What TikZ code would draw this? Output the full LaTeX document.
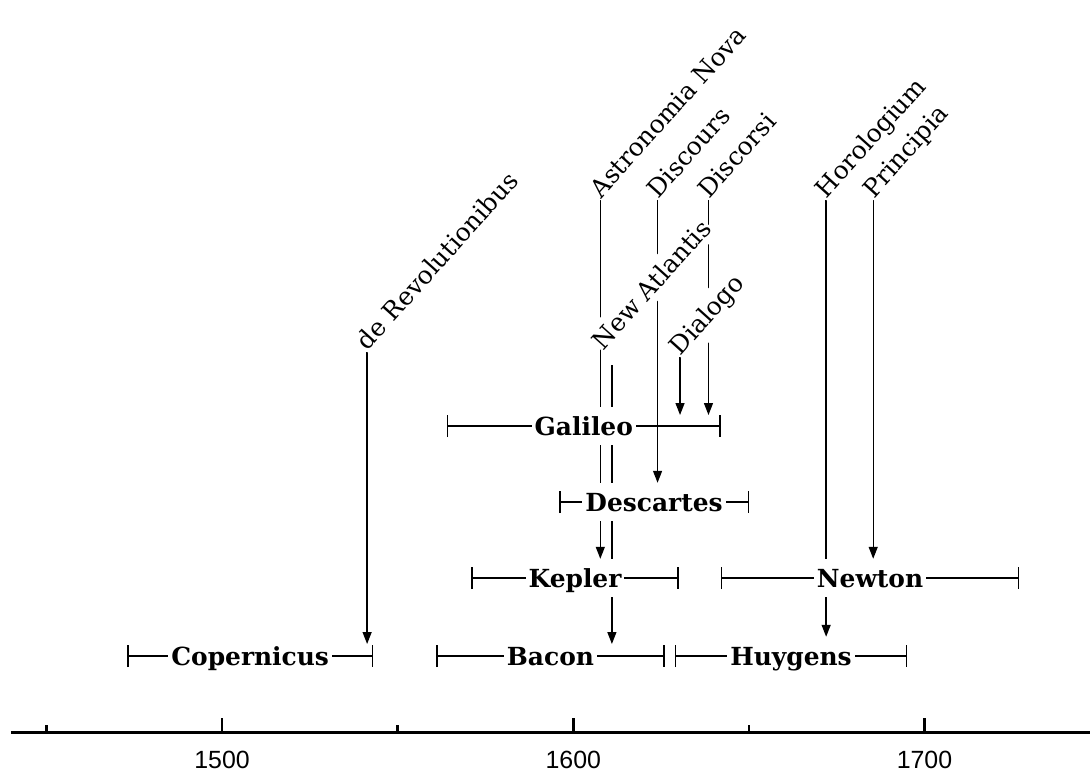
\documentclass[tikz,border=0pt]{standalone}
\usepackage{fontspec}
\setmainfont{DejaVu Serif}
\newfontfamily\yearfont{Liberation Sans}
\usetikzlibrary{arrows.meta, positioning, backgrounds, calc}

\begin{document}
\begin{tikzpicture}[x=3.512bp, y=-1bp,
  person/.style={fill=white, font=\bfseries\fontsize{25}{30}\selectfont,
    inner xsep=3bp, inner ysep=10bp, text height=18bp, text depth=0pt},
  work/.style={fill=white, rotate=48, anchor=base west, inner xsep=1bp,
    inner ysep=6bp, font=\fontsize{25}{30}\selectfont},
  life/.style={{Bar[width=22bp]}-{Bar[width=22bp]}, line width=1.3bp},
  arr/.style={-{Triangle[length=12bp,width=9bp]}, line width=1.3bp},
  yearlbl/.style={font=\yearfont\fontsize{25}{30}\selectfont, inner sep=0pt}]

  \useasboundingbox (1436.79,0) rectangle (1747.15,776);

  % lifespans
  \coordinate (cop-s) at (1473,656); \coordinate (cop-e) at (1543,656);
  \coordinate (gal-s) at (1564,426); \coordinate (gal-e) at (1642,426);
  \coordinate (des-s) at (1596,502); \coordinate (des-e) at (1650,502);
  \coordinate (kep-s) at (1571,578); \coordinate (kep-e) at (1630,578);
  \coordinate (new-s) at (1642,578); \coordinate (new-e) at (1727,578);
  \coordinate (bac-s) at (1561,656); \coordinate (bac-e) at (1626,656);
  \coordinate (huy-s) at (1629,656); \coordinate (huy-e) at (1695,656);

  \node[person] (cop) at ($(cop-s)!.5!(cop-e)$) {Copernicus};
  \node[person] (gal) at ($(gal-s)!.5!(gal-e)$) {Galileo};
  \node[person] (des) at ($(des-s)!.5!(des-e)$) {Descartes};
  \node[person] (kep) at ($(kep-s)!.5!(kep-e)$) {Kepler};
  \node[person] (new) at ($(new-s)!.5!(new-e)$) {Newton};
  \node[person] (bac) at ($(bac-s)!.5!(bac-e)$) {Bacon};
  \node[person] (huy) at ($(huy-s)!.5!(huy-e)$) {Huygens};

  % works
  \coordinate (atl-top) at (1611,365);
  \node[work] (rev) at (1541.3,352) {de Revolutionibus};
  \node[work] (astro) at (1607.7,200) {Astronomia Nova};
  \node[work] (disc) at (1624,200) {Discours};
  \node[work] (dsi) at (1638.5,200) {Discorsi};
  \node[work] (atl) at ([shift={(-9bp,13bp)}]atl-top) {New Atlantis};
  \node[work] (dia) at (1630.4,357) {Dialogo};
  \node[work] (pri) at (1685.4,200) {Principia};
  \node[work] (hor) at (1672,200) {Horologium};

  \begin{scope}[on background layer]
    \draw[life] (cop-s) -- (cop-e);
    \draw[life] (gal-s) -- (gal-e);
    \draw[life] (des-s) -- (des-e);
    \draw[life] (kep-s) -- (kep-e);
    \draw[life] (new-s) -- (new-e);
    \draw[life] (bac-s) -- (bac-e);
    \draw[life] (huy-s) -- (huy-e);

    \draw[arr, shorten >=12bp] (rev.base west) -- (rev.base west |- cop-e);
    \draw[arr] (astro.base west) -- (astro.base west |- kep.north);
    \draw[arr] (disc.base west) -- (disc.base west |- des.north);
    \draw[arr, shorten >=11bp] (dsi.base west) -- (dsi.base west |- gal-e);
    \draw[arr, shorten >=11bp] (dia.base west) -- (dia.base west |- gal-e);
    \draw[arr, shorten >=12bp] (atl-top) -- (atl-top |- bac-e);
    \draw[arr] (hor.base west) -- (hor.base west |- huy.north);
    \draw[arr] (pri.base west) -- (pri.base west |- new.north);
  \end{scope}

  % time axis
  \draw[line width=3bp] (1439.9,732) -- (1747.15,732);
  \foreach \yr in {1450,1550,1650}
    \draw[line width=2.5bp] (\yr,732) -- (\yr,725);
  \foreach \yr in {1500,1600,1700} {
    \draw[line width=2.5bp] (\yr,732) -- (\yr,718);
    \node[yearlbl] (y\yr) at (\yr,760) {\yr};
  }
\end{tikzpicture}
\end{document}
